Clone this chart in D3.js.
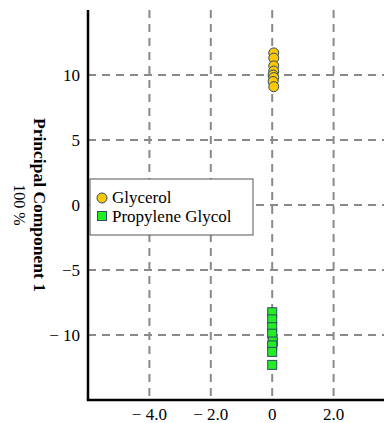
<!DOCTYPE html>
<html>
<head>
<meta charset="utf-8">
<script src="https://cdn.jsdelivr.net/npm/d3@7"></script>
<style>
    body { margin: 0; background: #fff; }
    svg { display: block; }
</style>
</head>
<body>
<div id="chart"></div>
<script>
/*jslint browser: true*/
// score values
var glycerolX = [0.05, 0.05, 0.05, 0.05, 0.03, 0.05, 0.03, 0.05],
    glycerolY = [11.7, 11.3, 10.7, 10.3, 10.0, 9.8, 9.5, 9.1],
    propyleneX = [0, 0, 0, 0, 0.02, 0, 0, 0],
    propyleneY = [-8.25, -8.8, -9.4, -9.9, -10.5, -10.8, -11.3, -12.3],
    xTicks = [-4, -2, 0, 2],
    xTickLabels = ['\u2212 4.0', '\u2212 2.0', '0', '2.0'],
    yTicks = [-10, -5, 0, 5, 10],
    yTickLabels = ['\u2212 10', '\u22125', '0', '5', '10'],
    seriesNames = ['Glycerol', 'Propylene Glycol'];

(function (d3) {
    var width = 384,
        height = 423,
        left = 88,
        bottom = 400,
        top = 10,
        font = '"Liberation Serif", "DejaVu Serif", serif';

    var svg = d3.select('#chart').append('svg')
        .attr('width', width)
        .attr('height', height)
        .style('font-family', font);

    // x runs past the right edge of the picture, like the cropped original
    var x = d3.scaleLinear().domain([-6, 4]).range([left, left + 307]),
        y = d3.scaleLinear().domain([-15, 15]).range([bottom, top]);

    var plot = svg.append('g');

    // dashed grid
    plot.selectAll('.vgrid').data(xTicks).enter()
        .append('line')
        .attr('class', 'vgrid')
        .attr('x1', function (d) { return x(d); })
        .attr('x2', function (d) { return x(d); })
        .attr('y1', top)
        .attr('y2', bottom)
        .attr('stroke', '#8a8a8a')
        .attr('stroke-width', 2)
        .attr('stroke-dasharray', '8,6');

    plot.selectAll('.hgrid').data(yTicks).enter()
        .append('line')
        .attr('class', 'hgrid')
        .attr('x1', left)
        .attr('x2', width)
        .attr('y1', function (d) { return y(d); })
        .attr('y2', function (d) { return y(d); })
        .attr('stroke', '#8a8a8a')
        .attr('stroke-width', 2)
        .attr('stroke-dasharray', '8,6');

    // propylene glycol squares
    var pg = d3.range(propyleneY.length).map(function (i) {
        return { x: propyleneX[i], y: propyleneY[i] };
    });
    plot.selectAll('.pg').data(pg).enter()
        .append('rect')
        .attr('class', 'pg')
        .attr('x', function (d) { return x(d.x) - 4.5; })
        .attr('y', function (d) { return y(d.y) - 4.5; })
        .attr('width', 9)
        .attr('height', 9)
        .attr('fill', '#22ee22')
        .attr('stroke', '#2f4a6a')
        .attr('stroke-width', 1);

    // glycerol circles
    var gl = d3.range(glycerolY.length).map(function (i) {
        return { x: glycerolX[i], y: glycerolY[i] };
    });
    plot.selectAll('.gl').data(gl).enter()
        .append('circle')
        .attr('class', 'gl')
        .attr('cx', function (d) { return x(d.x); })
        .attr('cy', function (d) { return y(d.y); })
        .attr('r', 5)
        .attr('fill', '#fcc800')
        .attr('stroke', '#2f4a6a')
        .attr('stroke-width', 1);

    // axes lines
    svg.append('line')
        .attr('x1', left).attr('x2', left)
        .attr('y1', top).attr('y2', bottom)
        .attr('stroke', '#000').attr('stroke-width', 2.5);
    svg.append('line')
        .attr('x1', left - 1.25).attr('x2', width)
        .attr('y1', bottom).attr('y2', bottom)
        .attr('stroke', '#000').attr('stroke-width', 2.5);

    // tick labels
    svg.selectAll('.xlab').data(xTicks).enter()
        .append('text')
        .attr('class', 'xlab')
        .attr('x', function (d) { return x(d); })
        .attr('y', 420)
        .attr('text-anchor', 'middle')
        .attr('font-size', 17)
        .text(function (d, i) { return xTickLabels[i]; });

    svg.selectAll('.ylab').data(yTicks).enter()
        .append('text')
        .attr('class', 'ylab')
        .attr('x', 80)
        .attr('y', function (d) { return y(d) + 6; })
        .attr('text-anchor', 'end')
        .attr('font-size', 17)
        .text(function (d, i) { return yTickLabels[i]; });

    // y axis title
    svg.append('text')
        .attr('transform', 'translate(34,' + y(0) + ') rotate(90)')
        .attr('text-anchor', 'middle')
        .attr('font-size', 17.5)
        .attr('font-weight', 'bold')
        .text('Principal Component 1');
    svg.append('text')
        .attr('transform', 'translate(14,' + y(0) + ') rotate(90)')
        .attr('text-anchor', 'middle')
        .attr('font-size', 16)
        .text('100 %');

    // legend
    var legend = svg.append('g').attr('transform', 'translate(90,179)');
    legend.append('rect')
        .attr('width', 163)
        .attr('height', 56)
        .attr('fill', '#fff')
        .attr('stroke', '#555')
        .attr('stroke-width', 1);
    legend.append('circle')
        .attr('cx', 12).attr('cy', 19).attr('r', 5)
        .attr('fill', '#fcc800').attr('stroke', '#2f4a6a');
    legend.append('rect')
        .attr('x', 7.5).attr('y', 32.5).attr('width', 9).attr('height', 9)
        .attr('fill', '#22ee22').attr('stroke', '#2f4a6a');
    legend.selectAll('.ltext').data(seriesNames).enter()
        .append('text')
        .attr('class', 'ltext')
        .attr('x', 22)
        .attr('y', function (d, i) { return 24 + i * 19; })
        .attr('font-size', 17)
        .text(function (d) { return d; });
}(window.d3));
</script>
</body>
</html>
